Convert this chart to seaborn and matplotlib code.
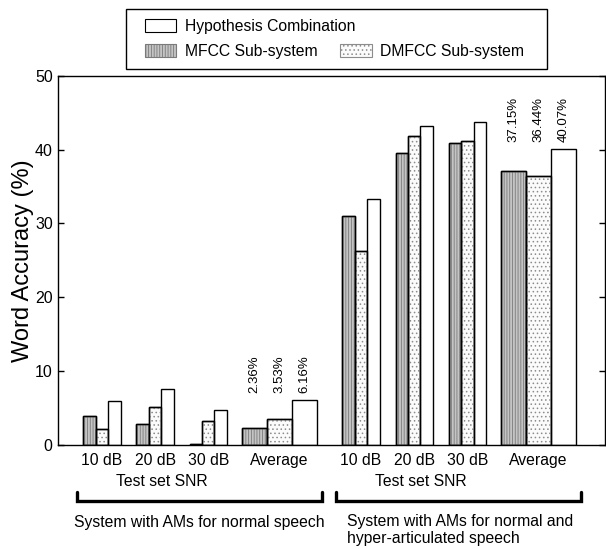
import numpy as np
import pandas as pd
import matplotlib
matplotlib.use("Agg")
import matplotlib.pyplot as plt
import matplotlib.transforms as mtransforms
from matplotlib.patches import Patch, Rectangle
import seaborn as sns

# ---------------- data ----------------
snr_labels = ["10 dB", "20 dB", "30 dB"]
avg_label = "Average"
series = ["MFCC Sub-system", "DMFCC Sub-system", "Hypothesis Combination"]
system_labels = ["System with AMs for normal speech",
                 "System with AMs for normal and\nhyper-articulated speech"]
mfcc_normal = [3.9, 2.8, 0.2]
dmfcc_normal = [2.2, 5.1, 3.3]
hyp_normal = [6.0, 7.6, 4.7]
mfcc_hyper = [31.0, 39.5, 40.9]
dmfcc_hyper = [26.3, 41.9, 41.1]
hyp_hyper = [33.3, 43.2, 43.7]
avg_normal = [2.36, 3.53, 6.16]
avg_hyper = [37.15, 36.44, 40.07]
avg_text_normal = ["2.36%", "3.53%", "6.16%"]
avg_text_hyper = ["37.15%", "36.44%", "40.07%"]
yticks = [0, 10, 20, 30, 40, 50]

# ---------------- layout ----------------
sns.set_theme(style="ticks")
plt.rcParams["font.family"] = ["Liberation Sans", "DejaVu Sans"]
plt.rcParams["hatch.linewidth"] = 0.6
for k in ["text.color", "axes.labelcolor", "xtick.color", "ytick.color"]:
    plt.rcParams[k] = "black"

FS = 11.3
group_offset = [0.0, 4.87]
avg_shift = 3.34
snr_pos = [[g + i for i in range(len(snr_labels))] for g in group_offset]
avg_pos = [g + avg_shift for g in group_offset]

rows = []
vals_snr = [[mfcc_normal, dmfcc_normal, hyp_normal], [mfcc_hyper, dmfcc_hyper, hyp_hyper]]
for gi in range(2):
    for si, s in enumerate(series):
        for ci in range(len(snr_labels)):
            rows.append({"x": snr_pos[gi][ci], "series": s, "value": vals_snr[gi][si][ci]})
df_snr = pd.DataFrame(rows)
rows = []
vals_avg = [avg_normal, avg_hyper]
for gi in range(2):
    for si, s in enumerate(series):
        rows.append({"x": avg_pos[gi], "series": s, "value": vals_avg[gi][si]})
df_avg = pd.DataFrame(rows)

fig = plt.figure(figsize=(6.06, 5.49), dpi=100)
ax = fig.add_axes([58.3 / 606, 1 - 445 / 549, (606 - 58.3) / 606 - 0.002, (445 - 75.7) / 549])

fills = {"MFCC Sub-system": "#c4c4c4", "DMFCC Sub-system": "#fbfbfb",
         "Hypothesis Combination": "white"}
hatches = {"MFCC Sub-system": "||||||", "DMFCC Sub-system": "....",
           "Hypothesis Combination": ""}
hatch_colors = {"MFCC Sub-system": "#7a7a7a", "DMFCC Sub-system": "#8c8c8c",
                "Hypothesis Combination": "none"}

sns.barplot(data=df_snr, x="x", y="value", hue="series", hue_order=series,
            native_scale=True, width=0.70, palette=fills, edgecolor="black",
            linewidth=1.0, legend=False, ax=ax, errorbar=None, saturation=1)
sns.barplot(data=df_avg, x="x", y="value", hue="series", hue_order=series,
            native_scale=True, width=1.41 / 4.87, palette=fills, edgecolor="black",
            linewidth=1.0, legend=False, ax=ax, errorbar=None, saturation=1)

# texture overlay in grey (hatch colour follows edge colour)
for ci, cont in enumerate(list(ax.containers)):
    s = series[ci % 3]
    if not hatches[s]:
        continue
    for p in cont:
        r = Rectangle(p.get_xy(), p.get_width(), p.get_height(), facecolor="none",
                      edgecolor=hatch_colors[s], hatch=hatches[s], lw=0, zorder=p.get_zorder() + 0.1)
        ax.add_patch(r)
        r2 = Rectangle(p.get_xy(), p.get_width(), p.get_height(), facecolor="none",
                       edgecolor="black", lw=1.0, zorder=p.get_zorder() + 0.2)
        ax.add_patch(r2)

ax.set_xlim(-0.82, 9.455)
ax.set_ylim(0, 50)
ax.set_yticks(yticks)
ax.set_yticklabels([str(v) for v in yticks], fontsize=11.5)
ax.tick_params(axis="y", direction="in", length=4, width=1, right=True, left=True,
               labelsize=11.5, pad=4)
xt = snr_pos[0] + [avg_pos[0]] + snr_pos[1] + [avg_pos[1]]
xl = snr_labels + [avg_label] + snr_labels + [avg_label]
ax.set_xticks(xt)
ax.set_xticklabels(xl, fontsize=FS)
ax.tick_params(axis="x", length=0, pad=6)
ax.set_xlabel("")
ax.set_ylabel("Word Accuracy (%)", fontsize=17, labelpad=0.5)
for sp in ax.spines.values():
    sp.set_linewidth(1.0)
    sp.set_color("black")

# value annotations over average bars
bar_w = 1.41 / 3
for gi, (vals, txts) in enumerate([(avg_normal, avg_text_normal), (avg_hyper, avg_text_hyper)]):
    ytxt = max(vals) + 0.9
    for si in range(3):
        xc = avg_pos[gi] + (si - 1) * bar_w
        ax.text(xc, ytxt, txts[si], rotation=90, ha="center", va="bottom", fontsize=9.5)

# brackets and labels below
trans = mtransforms.blended_transform_factory(ax.transData, fig.transFigure)
y_top = 1 - 491.7 / 549
y_bot = 1 - 501.0 / 549
for gi in range(2):
    x0 = snr_pos[gi][0] - 0.46
    x1 = avg_pos[gi] + 0.80
    ax.plot([x0, x0, x1, x1], [y_top, y_bot, y_bot, y_top], transform=trans,
            color="black", lw=2.4, solid_joinstyle="miter", clip_on=False)
    ax.text(np.mean(snr_pos[gi]) + 0.12, 1 - 481.7 / 549, "Test set SNR", transform=trans,
            ha="center", va="center", fontsize=FS)
    if gi == 0:
        ax.text((x0 + x1) / 2, 1 - 523 / 549, system_labels[gi], transform=trans,
                ha="center", va="center", fontsize=FS)
    else:
        ax.text(x0 + 0.2, 1 - 514 / 549, system_labels[gi], transform=trans,
                ha="left", va="top", fontsize=FS, linespacing=1.2)

# legend (two stacked legends so row 2 columns are independent of row 1)
def legend_handle(s):
    return Patch(facecolor=fills[s], edgecolor="black", lw=0.8)

leg_kw = dict(frameon=False, fontsize=FS, handlelength=2.0, handleheight=0.85,
              handletextpad=0.55, borderpad=0.2, loc="upper left")
leg1 = fig.legend([legend_handle(series[2])], [series[2]], ncol=1,
                  bbox_to_anchor=(134 / 606, 1 - 8 / 549), **leg_kw)
leg2 = fig.legend([legend_handle(series[0]), legend_handle(series[1])],
                  [series[0], series[1]], ncol=2, columnspacing=1.45,
                  bbox_to_anchor=(134 / 606, 1 - 33 / 549), **leg_kw)
for leg, ss in [(leg1, [series[2]]), (leg2, [series[0], series[1]])]:
    for h, s in zip(leg.legend_handles, ss):
        if hatches[s]:
            h.set_hatch(hatches[s])
            h.set_edgecolor(hatch_colors[s])
fig.add_artist(Rectangle((126 / 606, 1 - 69 / 549), (547 - 126) / 606, 60 / 549,
                         transform=fig.transFigure, facecolor="none",
                         edgecolor="black", lw=1.0))

fig.savefig("out.png", dpi=100)
